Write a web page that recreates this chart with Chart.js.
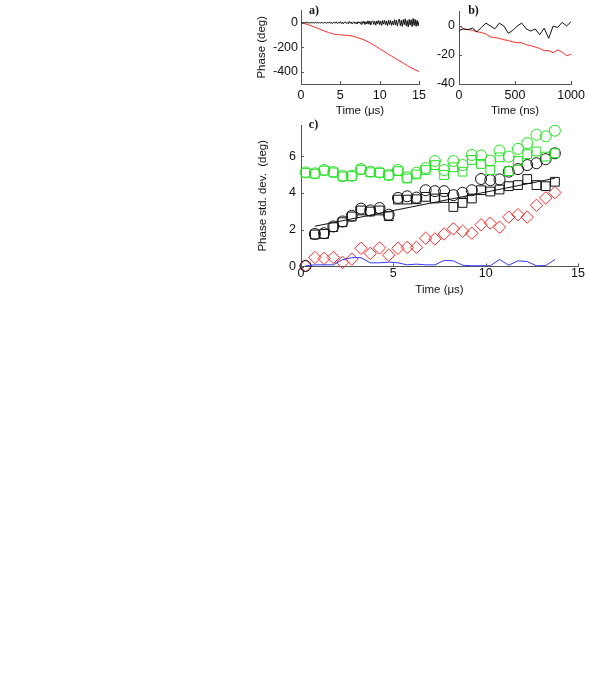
<!DOCTYPE html>
<html>
<head>
<meta charset="utf-8">
<script src="https://cdn.jsdelivr.net/npm/chart.js@4.4.1/dist/chart.umd.min.js"></script>
<style>
  html, body { margin: 0; padding: 0; background: #fff; }
  body { width: 589px; height: 694px; position: relative; overflow: hidden; }
  canvas { position: absolute; }
</style>
</head>
<body>
<canvas id="chartA" style="left:240px;top:0px;width:190px;height:120px" width="190" height="120"></canvas>
<canvas id="chartB" style="left:430px;top:0px;width:159px;height:120px" width="159" height="120"></canvas>
<canvas id="chartC" style="left:240px;top:112px;width:349px;height:195px" width="349" height="195"></canvas>
<script>
// ---- panel a) phase vs time (us) ----
const aTickX = [0, 5, 10, 15];
const aTickY = [-400, -200, 0];
// black trace, sampled every 0.125 us
const aBlack = [
	0, 2, -3, 1, -2, 3, -1, 2, -4, 1, 3, -2, 0, 2, -3, 4, -1, 1, -3, 2, -2, 3, 0, -4, 2,
	5, -6, 3, -2, 7, -5, 4, -8, 2, 6, -4, 8, -7, 3, -3, 9, -6, 5, -9, 4, 7, -5, 2, -8, 10,
	-4, 6, -10, 3, 8, -7, 5, -11, 9, -3, 7, -12, 10, -5,
	12, -15, 8, -10, 16, -12, 14, -18, 9, 17, -14, 11, -20, 15, -8, 19, -16, 13, -22, 18,
	-11, 20, -17, 14, -24, 21, -13, 18, -21, 12, -19,
	25, -18, 22, -28, 15, 30, -24, 20, -30, 26, -15, 32, -26, 18, -34, 28, -20, 24, -32, 35,
	-22, 27, -30, 20, -25, 10
];
// red trace, sampled every 0.5 us
const aRed = [
	0, -8, -18, -30, -42, -55, -68, -80, -90, -96, -99, -101, -104, -108, -118, -128,
	-140, -155, -172, -192, -212, -232, -252, -272, -292, -310, -330, -350, -368, -384, -398
];

// ---- panel b) phase vs time (ns) ----
const bTickX = [0, 500, 1000];
const bTickY = [-40, -20, 0];
const bTime = [0, 40, 80, 120, 160, 200, 240, 280, 320, 360, 400, 440, 480, 520, 560, 600,
	640, 680, 720, 760, 800, 840, 880, 920, 960, 1000];
const bBlack = [-3, -2, -2.5, -1.5, -4, -1, 2, 0, -2, 2, 0, -5, -3, 0, 2, -2,
	-3.5, -2, -6, -1.5, -8.5, 0, -1, 2.5, 0, 3];
const bRed = [0.5, -2, -2.5, -3, -4, -4.5, -5.5, -7.5, -8, -8.5, -9.5, -10, -11, -11.5, -11.5, -13,
	-13.5, -14.5, -15.5, -17, -17, -18.5, -16.5, -18, -20.5, -19.5];

// ---- panel c) phase std. dev. vs time (us) ----
const cTickX = [0, 5, 10, 15];
const cTickY = [0, 2, 4, 6];
const cTime = [0.25, 0.75, 1.25, 1.75, 2.25, 2.75, 3.25, 3.75, 4.25, 4.75, 5.25, 5.75, 6.25, 6.75,
	7.25, 7.75, 8.25, 8.75, 9.25, 9.75, 10.25, 10.75, 11.25, 11.75, 12.25, 12.75, 13.25, 13.75];
const greenCircles = [5.12, 5.07, 5.25, 5.14, 4.92, 4.94, 5.30, 5.16, 5.12, 4.98, 5.25, 4.85, 5.10, 5.36,
	5.74, 5.25, 5.74, 5.52, 6.07, 6.04, 5.76, 6.31, 5.98, 6.40, 6.71, 7.17, 7.08, 7.39];
const greenSquares = [5.10, 5.05, 5.22, 5.12, 4.90, 4.92, 5.27, 5.13, 5.10, 4.96, 5.19, 4.79, 5.01, 5.25,
	5.52, 4.98, 5.40, 5.16, 5.80, 5.58, 5.25, 5.94, 5.19, 5.74, 6.11, 6.26, 5.98, 6.16];
const blackCircles = [0.03, 1.77, 1.81, 2.18, 2.45, 2.76, 3.15, 3.05, 3.18, 2.82, 3.73, 3.82, 3.75, 4.15,
	4.10, 4.10, 3.88, 4.01, 4.15, 4.76, 4.70, 4.74, 5.16, 5.30, 5.52, 5.62, 5.84, 6.16];
const blackSquares = [null, 1.74, 1.77, 2.14, 2.41, 2.72, 3.05, 2.99, 3.05, 2.74, 3.64, 3.64, 3.66, 3.79,
	3.70, 3.73, 3.24, 3.46, 3.70, 4.15, 4.08, 4.19, 4.37, 4.43, 4.76, 4.43, 4.37, 4.61];
const redDiamonds = [0.03, 0.49, 0.44, 0.49, 0.22, 0.40, 0.99, 0.71, 1.01, 0.62, 0.99, 1.04, 1.04, 1.54,
	1.50, 1.77, 2.05, 1.92, 1.81, 2.27, 2.36, 2.14, 2.69, 2.82, 2.69, 3.33, 3.73, 4.02];
const blueLine = [0.04, 0.09, 0.09, 0.09, 0.37, 0.48, 0.48, 0.20, 0.20, 0.24, 0.20, 0.09, 0.13, 0.09,
	0.09, 0.33, 0.31, 0.07, 0.04, 0.04, 0.04, 0.38, 0.07, 0.31, 0.27, 0.04, 0.05, 0.38];
const fitTime = [0.75, 13.75];
const fitValue = [2.19, 4.80];

const GREEN = "#22e322";
const RED = "#ff2b2b";
const BLUE = "#3535ff";
const INK = "#111";
const AXIS = "#555";

Chart.defaults.font.family = "'Liberation Sans', Arial, sans-serif";
Chart.defaults.font.size = 12.5;
Chart.defaults.color = INK;
Chart.defaults.animation = false;

const pts = (xs, ys) => xs.map((x, i) => ({ x: x, y: ys[i] }));

// inward tick marks + panel texts
const decor = {
	id: "decor",
	afterDraw(chart, args, opts) {
		const { ctx, chartArea: a, scales } = chart;
		ctx.save();
		ctx.strokeStyle = AXIS;
		ctx.lineWidth = 1;
		scales.x.ticks.forEach((t) => {
			const px = Math.round(scales.x.getPixelForValue(t.value)) + 0.5;
			ctx.beginPath();
			ctx.moveTo(px, a.bottom);
			ctx.lineTo(px, a.bottom - 3);
			ctx.stroke();
		});
		scales.y.ticks.forEach((t) => {
			const py = Math.round(scales.y.getPixelForValue(t.value)) + 0.5;
			ctx.beginPath();
			ctx.moveTo(a.left, py);
			ctx.lineTo(a.left + 3, py);
			ctx.stroke();
		});
		ctx.fillStyle = INK;
		ctx.textAlign = "center";
		ctx.textBaseline = "middle";
		(opts.texts || []).forEach((t) => {
			ctx.save();
			ctx.font = t.font || "11.5px 'Liberation Sans', Arial, sans-serif";
			const cx = t.dx === undefined ? (a.left + a.right) / 2 : a.left + t.dx;
			const cy = t.dy === undefined ? (a.top + a.bottom) / 2 : t.fromBottom ? a.bottom + t.dy : a.top + t.dy;
			ctx.translate(cx, cy);
			if (t.rot) ctx.rotate(t.rot);
			ctx.fillText(t.text, 0, 0);
			ctx.restore();
		});
		ctx.restore();
	},
};

function axes(xMin, xMax, xTicks, yMin, yMax, yTicks, yWidth, xHeight, xPad, yPad) {
	return {
		x: {
			type: "linear",
			min: xMin,
			max: xMax,
			afterBuildTicks: (s) => { s.ticks = xTicks.map((v) => ({ value: v })); },
			afterFit: (s) => { s.height = xHeight; },
			grid: { display: false, drawTicks: false },
			border: { display: true, color: AXIS, width: 1 },
			ticks: { padding: xPad, maxRotation: 0, autoSkip: false, callback: (v) => String(v) },
		},
		y: {
			type: "linear",
			min: yMin,
			max: yMax,
			afterBuildTicks: (s) => { s.ticks = yTicks.map((v) => ({ value: v })); },
			afterFit: (s) => { s.width = yWidth; },
			grid: { display: false, drawTicks: false },
			border: { display: true, color: AXIS, width: 1 },
			ticks: { padding: yPad, callback: (v) => String(v) },
		},
	};
}

const LABEL_FONT = "bold 12px 'Liberation Serif', 'DejaVu Serif', serif";

// panel a
new Chart(document.getElementById("chartA"), {
	type: "scatter",
	data: {
		datasets: [
			{
				data: pts(aBlack.map((v, i) => i * 0.125), aBlack),
				showLine: true, borderColor: INK, borderWidth: 1, pointRadius: 0,
			},
			{
				data: pts(aRed.map((v, i) => i * 0.5), aRed),
				showLine: true, borderColor: RED, borderWidth: 1, pointRadius: 0,
			},
		],
	},
	options: {
		responsive: false,
		events: [],
		layout: { autoPadding: false, padding: { top: 6, right: 10, left: 0, bottom: 0 } },
		plugins: {
			legend: { display: false },
			tooltip: { enabled: false },
			decor: {
				texts: [
					{ text: "Phase (deg)", dx: -39, rot: -Math.PI / 2 },
					{ text: "Time (\u03bcs)", dy: 26.5, fromBottom: true },
					{ text: "a)", dx: 13, dy: 0, font: LABEL_FONT },
				],
			},
		},
		scales: axes(0, 15, aTickX, -500, 100, aTickY, 61, 36, 4, 3),
	},
	plugins: [decor],
});

// panel b
new Chart(document.getElementById("chartB"), {
	type: "scatter",
	data: {
		datasets: [
			{ data: pts(bTime, bBlack), showLine: true, borderColor: INK, borderWidth: 1, pointRadius: 0 },
			{ data: pts(bTime, bRed), showLine: true, borderColor: RED, borderWidth: 1, pointRadius: 0 },
		],
	},
	options: {
		responsive: false,
		events: [],
		layout: { autoPadding: false, padding: { top: 6.5, right: 12, left: 0, bottom: 0 } },
		plugins: {
			legend: { display: false },
			tooltip: { enabled: false },
			decor: {
				texts: [
					{ text: "Time (ns)", dy: 26.5, fromBottom: true },
					{ text: "b)", dx: 14.5, dy: -0.5, font: LABEL_FONT },
				],
			},
		},
		scales: axes(0, 1000, bTickX, -40, 10, bTickY, 29, 36, 4, 4),
	},
	plugins: [decor],
});

// panel c
const marker = (ys, color, style, r) => ({
	data: pts(cTime, ys),
	showLine: false,
	pointStyle: style,
	pointRadius: r,
	pointBorderColor: color,
	pointBackgroundColor: "rgba(0,0,0,0)",
	pointBorderWidth: 1,
});

new Chart(document.getElementById("chartC"), {
	type: "scatter",
	data: {
		datasets: [
			{ data: pts(fitTime, fitValue), showLine: true, borderColor: INK, borderWidth: 1, pointRadius: 0 },
			{ data: pts(cTime, blueLine), showLine: true, borderColor: BLUE, borderWidth: 1, pointRadius: 0 },
			marker(greenCircles, GREEN, "circle", 5.5),
			marker(greenSquares, GREEN, "rect", 6.2),
			marker(blackCircles, INK, "circle", 5.5),
			marker(blackSquares, INK, "rect", 6.2),
			marker(redDiamonds, RED, "rectRot", 6.2),
		],
	},
	options: {
		responsive: false,
		events: [],
		clip: false,
		layout: { autoPadding: false, padding: { top: 13, right: 11, left: 0, bottom: 0 } },
		plugins: {
			legend: { display: false },
			tooltip: { enabled: false },
			decor: {
				texts: [
					{ text: "Phase std. dev.  (deg)", dx: -38, rot: -Math.PI / 2 },
					{ text: "Time (\u03bcs)", dy: 23.5, fromBottom: true },
					{ text: "c)", dx: 12.5, dy: 0, font: LABEL_FONT },
				],
			},
		},
		scales: axes(0, 15, cTickX, 0, 7.7, cTickY, 61, 40.5, 0, 5),
	},
	plugins: [decor],
});
</script>
</body>
</html>
